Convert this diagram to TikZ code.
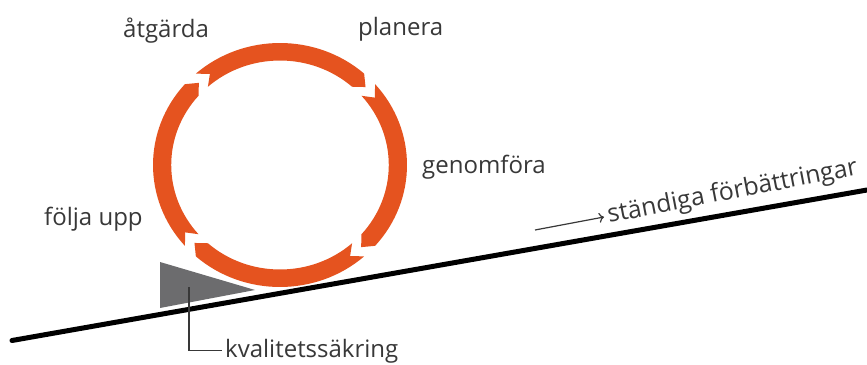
\documentclass[tikz,border=0pt]{standalone}
\usepackage{fontspec}
\setmainfont{Open Sans}
\usetikzlibrary{arrows.meta}
\definecolor{ringc}{HTML}{E5531F}
\definecolor{wedge}{HTML}{6C6C6E}
\definecolor{txt}{HTML}{383838}
\begin{document}
\begin{tikzpicture}[x=1pt,y=-1pt,
  lbl/.style={inner sep=0pt, text=txt, anchor=base west, font=\fontsize{24}{28}\selectfont},
  ringseg/.style={fill=ringc},
  leader/.style={draw=txt, line width=1.2pt}]
\useasboundingbox (0,0) rectangle (867,364);
\fill[white] (0,0) rectangle (867,364);
% slope
\coordinate (L1) at (12,340.5);
\coordinate (L2) at (867,190);
\draw[line width=5pt, line cap=round] (L1) -- (L2);
% wedge
\fill[wedge] (160,262) -- (160,308) -- (255,290) -- cycle;
% ring
\begin{scope}[shift={(280,165)}]
\begin{scope}[x=1.041pt, y=1pt]
\def\Ro{122}\def\Ri{104.5}\def\Rm{113.25}\def\tp{5}
\foreach \a/\b in {131.5/48.5, 41.5/-41.5, -48.5/-131.5, -138.5/-221.5}{
  \fill[ringseg] (\a:\Ro) arc[start angle=\a, end angle=\b, radius=\Ro]
    -- ({\b-\tp}:\Rm) -- (\b:\Ri)
    arc[start angle=\b, end angle=\a, radius=\Ri]
    -- ({\a-\tp}:\Rm) -- cycle;
}
\end{scope}
\end{scope}
% labels
\node[lbl] (at) at (123,37) {åtgärda};
\node[lbl] (pl) at (358,35) {planera};
\node[lbl] (ge) at (422,173) {genomföra};
\node[lbl] (fu) at (44,225) {följa upp};
\node[lbl] (kv) at (225,357) {kvalitetssäkring};
\node[lbl, rotate=11, font=\fontsize{24.8}{28}\selectfont] (sf) at (609,223) {ständiga förbättringar};
% arrow
\coordinate (as) at (535,230);
\coordinate (ae) at (604,217);
\draw[leader, -{To[length=5pt,width=10pt]}] (as) -- (ae);
% leader to kvalitetssäkring
\coordinate (kq) at (189,287);
\draw[leader] (kq) |- ([xshift=-3pt]kv.west);
\end{tikzpicture}
\end{document}
